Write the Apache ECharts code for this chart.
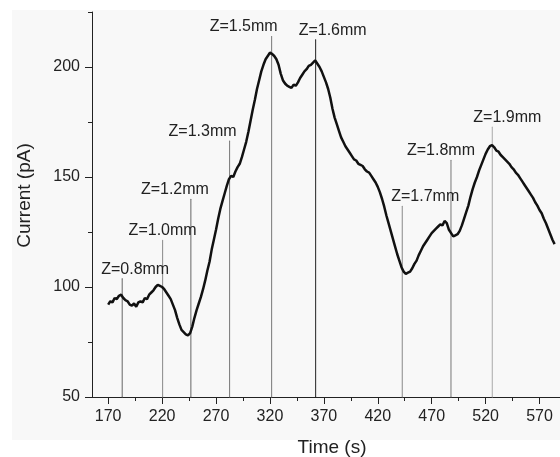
<!DOCTYPE html>
<html>
<head>
<meta charset="utf-8">
<script src="https://cdn.jsdelivr.net/npm/echarts@6/dist/echarts.min.js"></script>
<style>
  html, body { margin: 0; padding: 0; background: #fff; }
  #chart { width: 560px; height: 457px; }
</style>
</head>
<body>
<div id="chart"></div>
<script>
// current trace (time in s, current in pA)
const times = [
  170, 172, 174, 176, 178, 180, 182, 184, 186, 188, 190, 192, 194, 196, 198,
  200, 202, 204, 206, 208, 210, 212, 214, 216, 218, 220, 222, 224, 226, 228,
  230, 232, 234, 236, 238, 240, 242, 244, 246, 248, 250, 252, 254, 256, 258,
  260, 262, 264, 266, 268, 270, 272, 274, 276, 278, 280, 282, 284, 286, 288,
  290, 292, 294, 296, 298, 300, 302, 304, 306, 308, 310, 312, 314, 316, 318,
  320, 322, 324, 326, 328, 330, 332, 334, 336, 338, 340, 342, 344, 346, 348,
  350, 352, 354, 356, 358, 360, 362, 364, 366, 368, 370, 372, 374, 376, 378,
  380, 382, 384, 386, 388, 390, 392, 394, 396, 398, 400, 402, 404, 406, 408,
  410, 412, 414, 416, 418, 420, 422, 424, 426, 428, 430, 432, 434, 436, 438,
  440, 442, 444, 446, 448, 450, 452, 454, 456, 458, 460, 462, 464, 466, 468,
  470, 472, 474, 476, 478, 480, 482, 484, 486, 488, 490, 492, 494, 496, 498,
  500, 502, 504, 506, 508, 510, 512, 514, 516, 518, 520, 522, 524, 526, 528,
  530, 532, 534, 536, 538, 540, 542, 544, 546, 548, 550, 552, 554, 556, 558,
  560, 562, 564, 566, 568, 570, 572, 574, 576, 578, 580, 582, 584
]
const current = [
  92, 93.5, 93, 95, 94.5, 96, 96.5, 95, 94, 93.5, 92, 91.5, 92.5, 91, 93,
  93.5, 93, 95, 94.5, 96.5, 97.5, 98.5, 100, 101, 100.5, 100, 99, 97.5, 96, 94.5,
  92, 89.5, 86, 83, 80.5, 79.5, 78.5, 78, 79, 82, 86, 89.5, 92.5, 95.5, 99,
  103, 107.5, 111.5, 117, 121.5, 126, 131, 135.5, 139, 142.5, 146, 149, 150.5, 150, 152.5,
  154.5, 156, 159, 162.5, 166, 170.5, 175.5, 180.5, 185, 190, 194, 198, 201, 203.5, 205,
  206.5, 206, 205, 203.5, 201, 197, 194, 192.5, 191.5, 191, 190.5, 192, 191.5, 193, 195,
  196.5, 198, 199, 200.5, 201, 202, 203, 201.5, 200, 198, 195.5, 193, 190, 186, 181,
  177, 174, 171, 168, 166, 164, 162.5, 161, 159.5, 158, 157.5, 156, 155.5, 155, 153.5,
  152.5, 152, 150.5, 149, 147.5, 145.5, 143, 140, 136.5, 132.5, 129, 125.5, 122, 118.5, 115,
  112, 109, 107, 106, 106.5, 107, 108.5, 110.5, 112, 114.5, 116.5, 118.5, 120, 121.5, 123,
  124.5, 125.5, 126.5, 127.5, 128.5, 128, 130, 129, 126, 124.5, 123, 123.5, 124, 125.5, 128,
  131, 134, 137, 141, 144.5, 147.5, 150, 153, 155.5, 158, 160.5, 162.5, 164, 164.5, 163.5,
  162, 161.5, 160, 159, 158, 157, 156, 154.5, 153.5, 152, 151, 149.5, 148, 146.5, 145,
  143.5, 142, 140.5, 138.5, 137, 135, 133.5, 131, 129, 126.5, 124, 121.5, 119.5
]

// vertical marker lines: label, time, top of the line (pA)
const zLabels = ['Z=0.8mm', 'Z=1.0mm', 'Z=1.2mm', 'Z=1.3mm', 'Z=1.5mm', 'Z=1.6mm', 'Z=1.7mm', 'Z=1.8mm', 'Z=1.9mm']
const zTimes = [183, 220.5, 246.7, 282.6, 321.6, 362.4, 442.7, 487.9, 526.2]
const zTops = [103.8, 121.2, 139.9, 166.4, 213.9, 212.4, 136.7, 157.6, 172.7]

// ticks
const xMajorTicks = [170, 220, 270, 320, 370, 420, 470, 520, 570]
const xMinorTicks = [195, 245, 295, 345, 395, 445, 495, 545]
const yMajorTicks = [50, 100, 150, 200]
const yMinorTicks = [75, 125, 175, 225]

// label horizontal offsets and line greys (layout/style only)
const zLabelDx = [13, 0, -16, -27, -28, 17, 23, -10, 15]
const zColors = ['#666', '#888', '#666', '#777', '#777', '#222', '#888', '#777', '#aaa']

const font = 'Liberation Sans, Arial, sans-serif'
const chart = echarts.init(document.getElementById('chart'))

const markerSeries = zLabels.map(function (name, i) {
  return {
    type: 'line',
    name: name,
    silent: true,
    symbol: 'circle',
    symbolSize: 1,
    showSymbol: true,
    itemStyle: { color: zColors[i] },
    lineStyle: { color: zColors[i], width: 1 },
    labelLayout: { hideOverlap: false },
    z: 1,
    data: [
      { value: [zTimes[i], 50], label: { show: false } },
      {
        value: [zTimes[i], zTops[i]],
        label: {
          show: true,
          position: [zLabelDx[i] + 0.5, -1],
          align: 'center',
          verticalAlign: 'bottom',
          formatter: name,
          color: '#222',
          fontSize: 16,
          fontFamily: font
        }
      }
    ]
  }
})

const axisCommon = {
  type: 'value',
  splitLine: { show: false },
  axisLine: { show: true, lineStyle: { color: '#222', width: 1 } }
}

chart.setOption({
  animation: false,
  graphic: [{
    type: 'rect',
    z: -10,
    shape: { x: 12, y: 10, width: 548, height: 430 },
    style: { fill: '#f8f8f8' }
  }],
  grid: { left: 92, right: 0, top: 12, bottom: 60, outerBoundsMode: 'none' },
  xAxis: [
    Object.assign({}, axisCommon, {
      min: 155,
      max: 589,
      position: 'bottom',
      name: 'Time (s)',
      nameLocation: 'middle',
      nameGap: 41,
      nameTextStyle: { fontSize: 19, color: '#222', fontFamily: font, padding: [0, 0, 0, 12] },
      axisTick: { show: true, length: 7, customValues: xMajorTicks, lineStyle: { color: '#222' } },
      axisLabel: { customValues: xMajorTicks, fontSize: 16, color: '#222', margin: 12, fontFamily: font }
    }),
    Object.assign({}, axisCommon, {
      min: 155,
      max: 589,
      position: 'bottom',
      axisLine: { show: false },
      axisTick: { show: true, length: 4, customValues: xMinorTicks, lineStyle: { color: '#222' } },
      axisLabel: { show: false }
    })
  ],
  yAxis: [
    Object.assign({}, axisCommon, {
      min: 50,
      max: 225,
      position: 'left',
      name: 'Current (pA)',
      nameLocation: 'middle',
      nameGap: 58,
      nameTextStyle: { fontSize: 19, color: '#222', fontFamily: font, padding: [0, 0, 0, 18] },
      axisTick: { show: true, length: 7, customValues: yMajorTicks, lineStyle: { color: '#222' } },
      axisLabel: { customValues: yMajorTicks, fontSize: 16, color: '#222', margin: 12, fontFamily: font }
    }),
    Object.assign({}, axisCommon, {
      min: 50,
      max: 225,
      position: 'left',
      axisLine: { show: false },
      axisTick: { show: true, length: 4, customValues: yMinorTicks, lineStyle: { color: '#222' } },
      axisLabel: { show: false }
    })
  ],
  series: markerSeries.concat([{
    type: 'line',
    name: 'Current',
    symbol: 'none',
    z: 3,
    lineStyle: { color: '#111', width: 2.5 },
    data: times.map(function (t, i) { return [t, current[i]] })
  }])
})
</script>
</body>
</html>
